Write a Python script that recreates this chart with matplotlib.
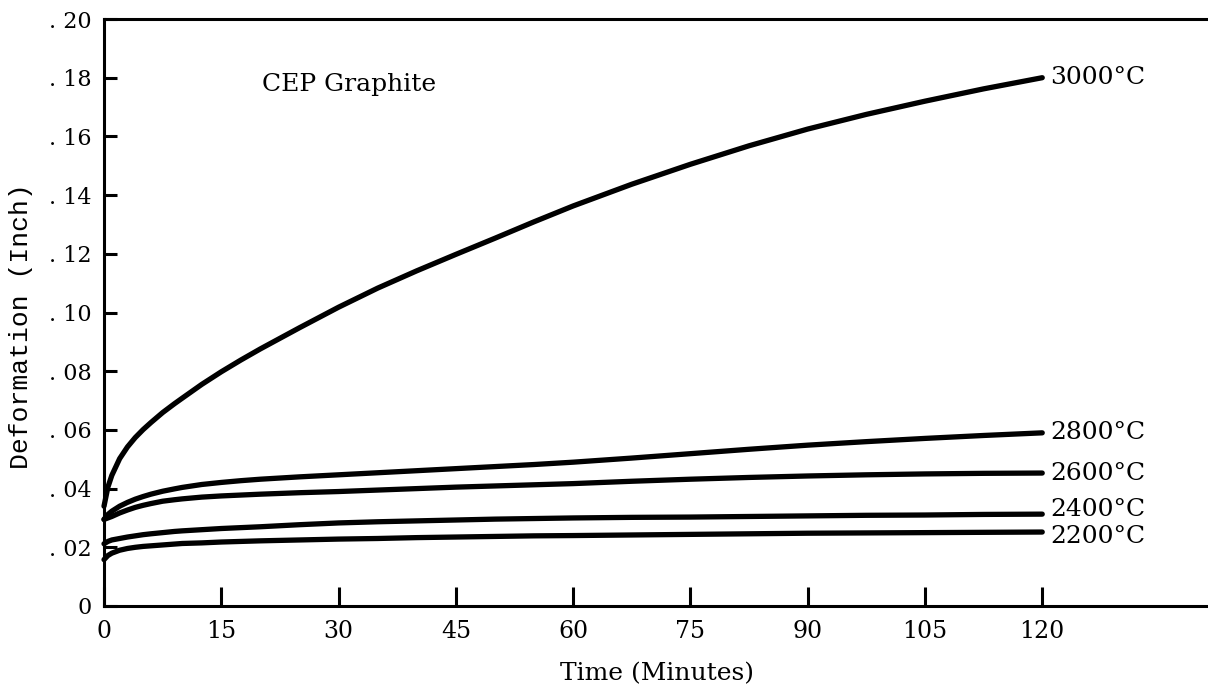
import matplotlib
matplotlib.use("Agg")
import matplotlib.pyplot as plt
from matplotlib.transforms import offset_copy

# ---- data ----
time_min = [0, 0.5, 1, 2, 3, 4, 5, 6, 7.5, 9, 10, 12.5, 15, 17.5, 20, 25, 30, 35, 40, 45,
            50, 55, 60, 67.5, 75, 82.5, 90, 97.5, 105, 112.5, 120]
def_3000 = [0.034, 0.0405, 0.0445, 0.0502, 0.0542, 0.0574, 0.0601, 0.0625, 0.0659, 0.0689, 0.0708,
            0.0755, 0.0798, 0.0838, 0.0876, 0.0948, 0.1018, 0.1083, 0.1142, 0.1198,
            0.1253, 0.1309, 0.1363, 0.1437, 0.1505, 0.1568, 0.1625, 0.1675, 0.172, 0.1762, 0.180]
def_2800 = [0.0295, 0.0312, 0.0323, 0.034, 0.0353, 0.0364, 0.0373, 0.0381, 0.0391, 0.0399, 0.0404,
            0.0414, 0.0421, 0.0427, 0.0432, 0.044, 0.0447, 0.0454, 0.0461, 0.0468,
            0.0475, 0.0482, 0.049, 0.0504, 0.0519, 0.0534, 0.0548, 0.056, 0.0571, 0.0581, 0.059]
def_2600 = [0.0295, 0.030, 0.0305, 0.0317, 0.0327, 0.0336, 0.0343, 0.0349, 0.0357, 0.0362, 0.0365,
            0.0371, 0.0375, 0.0378, 0.0381, 0.0386, 0.039, 0.0395, 0.040, 0.0405,
            0.0409, 0.0413, 0.0417, 0.0425, 0.0432, 0.0438, 0.0443, 0.0447, 0.045, 0.0452, 0.0453]
def_2400 = [0.0212, 0.022, 0.0225, 0.023, 0.0235, 0.0239, 0.0243, 0.0246, 0.025, 0.0254, 0.0256,
            0.026, 0.0264, 0.0267, 0.027, 0.0277, 0.0283, 0.0287, 0.029, 0.0293,
            0.0296, 0.0298, 0.030, 0.0302, 0.0303, 0.0305, 0.0307, 0.0309, 0.031, 0.0312, 0.0313]
def_2200 = [0.0158, 0.0172, 0.018, 0.019, 0.0196, 0.020, 0.0203, 0.0205, 0.0208, 0.0211, 0.0213,
            0.0215, 0.0218, 0.022, 0.0222, 0.0225, 0.0228, 0.023, 0.0233, 0.0235,
            0.0237, 0.0239, 0.024, 0.0242, 0.0244, 0.0246, 0.0248, 0.0249, 0.025, 0.0251, 0.0252]
series_labels = ["3000°C", "2800°C", "2600°C", "2400°C", "2200°C"]
x_ticks = [0, 15, 30, 45, 60, 75, 90, 105, 120]
y_ticks = [0, 0.02, 0.04, 0.06, 0.08, 0.10, 0.12, 0.14, 0.16, 0.18, 0.20]
y_tick_labels = ["0", ". 02", ". 04", ". 06", ". 08", ". 10", ". 12", ". 14", ". 16", ". 18", ". 20"]

serif = "DejaVu Serif"
mono = "Liberation Mono"

fig = plt.figure(figsize=(12.08, 6.92), dpi=100)
ax = fig.add_axes([104 / 1208, 1 - 606 / 692, 1 - 104 / 1208, (606 - 19) / 692])

label_dy = [0, 0, 0, 3, -3]  # points, to keep the two lowest labels apart
for ys, lab, dy in zip([def_3000, def_2800, def_2600, def_2400, def_2200], series_labels, label_dy):
    ax.plot(time_min, ys, color="black", lw=3.8, solid_capstyle="round",
            solid_joinstyle="round", clip_on=False)
    tr = offset_copy(ax.transData, fig=fig, x=6, y=dy, units="points")
    ax.text(time_min[-1], ys[-1], lab, fontsize=18, family=serif,
            ha="left", va="center", transform=tr)

ax.set_xlim(0, 141.2)
ax.set_ylim(0, 0.20)
ax.spines["right"].set_visible(False)
for s in ["left", "top", "bottom"]:
    ax.spines[s].set_linewidth(2.2)

ax.set_xticks(x_ticks)
ax.set_xticklabels([str(v) for v in x_ticks], fontsize=17, family=serif)
ax.set_yticks(y_ticks)
ax.set_yticklabels(y_tick_labels, fontsize=16, family=serif)
ax.tick_params(axis="x", direction="in", length=14, width=2.2, pad=10)
ax.tick_params(axis="y", direction="in", length=9, width=2.2, pad=9)

ax.set_xlabel("Time (Minutes)", fontsize=18, family=serif)
ax.xaxis.set_label_coords((657 - 104) / (1208 - 104), (606 - 662) / 587)
ax.set_ylabel("Deformation (Inch)", fontsize=19, family=mono)
ax.yaxis.set_label_coords((33 - 104) / (1208 - 104), (606 - 326) / 587)

ax.text(20.2, 0.1778, "CEP Graphite", fontsize=18, family=serif, ha="left", va="center")

fig.savefig("out.png", dpi=100)
